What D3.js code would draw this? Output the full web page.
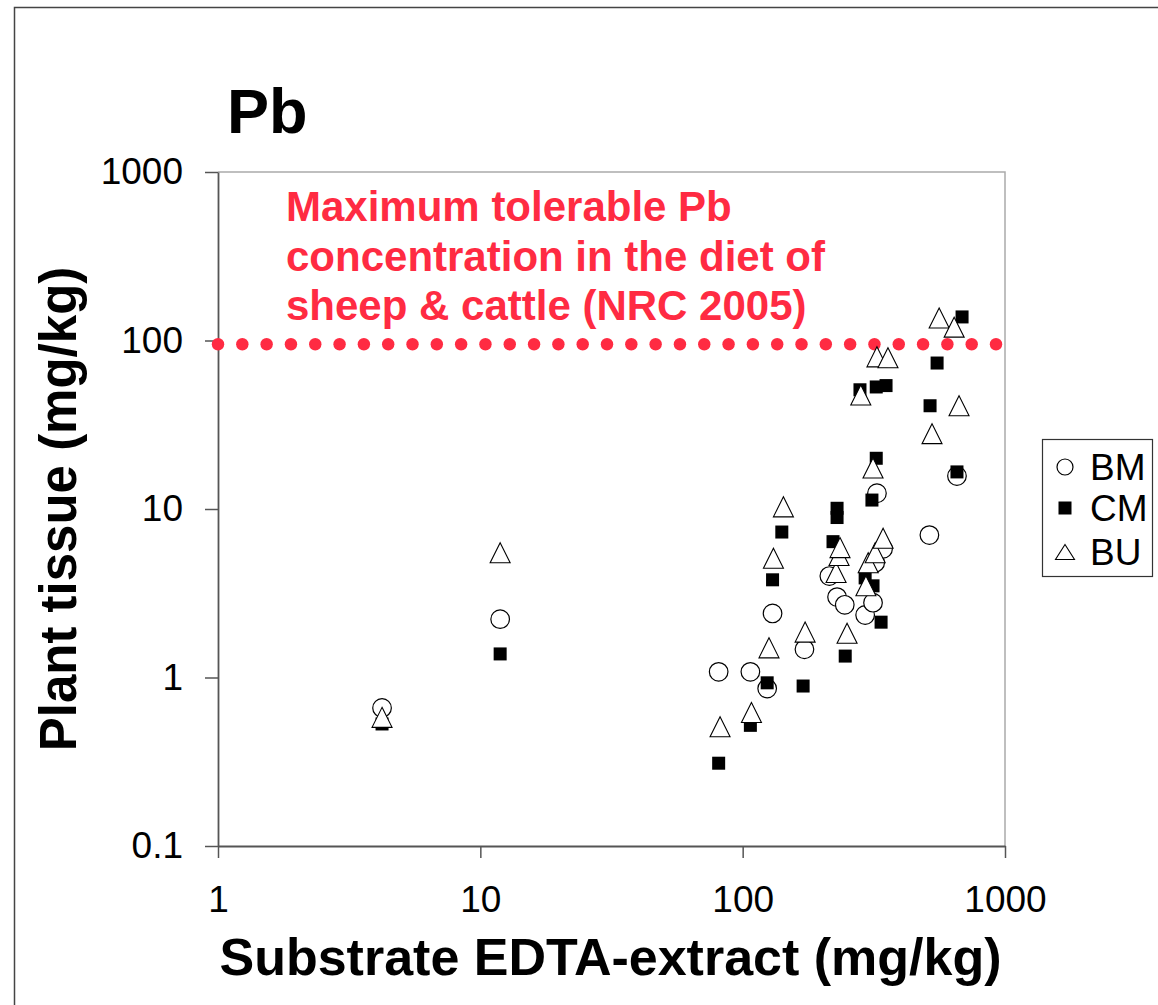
<!DOCTYPE html>
<html>
<head>
<meta charset="utf-8">
<script src="https://d3js.org/d3.v7.min.js"></script>
<style>
body { margin: 0; background: #fff; }
text { font-family: "Liberation Sans", Arial, sans-serif; }
</style>
</head>
<body>
<script>
// data
var bmX = [4.22, 11.9, 81, 107, 124, 130, 172, 214, 229, 245, 293, 314, 320, 343, 325, 515, 656];
var bmY = [0.66, 2.22, 1.08, 1.08, 0.86, 2.4, 1.47, 4.0, 3.0, 2.7, 2.35, 2.78, 4.8, 5.8, 12.4, 7.0, 15.7];

var cmX = [4.22, 11.9, 81, 107, 124, 130, 141, 170, 221, 229, 229, 246, 280, 293, 311, 314, 323, 323, 337, 352, 518, 551, 656, 686];
var cmY = [0.53, 1.38, 0.31, 0.52, 0.93, 3.8, 7.3, 0.89, 6.4, 10.1, 8.9, 1.34, 51, 3.9, 11.3, 3.5, 20, 53, 2.13, 54, 41, 73.5, 16.6, 138];

var buX = [4.22, 11.9, 82, 108, 126, 131, 143, 173, 227, 233, 235, 250, 282, 295, 301, 314, 320, 325, 343, 358, 527, 561, 640, 668];
var buY = [0.58, 5.5, 0.51, 0.62, 1.5, 5.1, 10.3, 1.86, 4.2, 5.3, 5.9, 1.83, 47.5, 3.5, 4.8, 17.5, 5.5, 80, 6.7, 79, 28, 136, 120, 41];

var xTicks = [1, 10, 100, 1000];
var yTicks = [0.1, 1, 10, 100, 1000];
var limitValue = 95;
var seriesNames = ['BM', 'CM', 'BU'];
var noteLines = ['Maximum tolerable Pb', 'concentration in the diet of', 'sheep & cattle (NRC 2005)'];

var svgConfig = {
	width: 1158,
	height: 1005,
	left: 218,
	right: 1005,
	top: 172,
	bottom: 846
};
var red = '#ff2b42';

var svg = d3.select('body')
	.append('svg')
	.attr('width', svgConfig.width)
	.attr('height', svgConfig.height);

// outer frame
svg.append('rect')
	.attr('x', 14.5).attr('y', 7.5)
	.attr('width', 1160).attr('height', 1020)
	.attr('fill', 'none')
	.attr('stroke', '#444')
	.attr('stroke-width', 1.5);

var xScale = d3.scaleLog().domain([1, 1000]).range([svgConfig.left, svgConfig.right]);
var yScale = d3.scaleLog().domain([0.1, 1000]).range([svgConfig.bottom, svgConfig.top]);

// plot frame (top/right light)
svg.append('path')
	.attr('d', 'M' + svgConfig.left + ',' + svgConfig.top + 'H' + svgConfig.right + 'V' + svgConfig.bottom)
	.attr('fill', 'none')
	.attr('stroke', '#aaa')
	.attr('stroke-width', 1.5);

// x axis
var xAxis = d3.axisBottom(xScale)
	.tickValues(xTicks)
	.tickFormat(d3.format('d'))
	.tickSizeInner(12)
	.tickSizeOuter(0)
	.tickPadding(28);
var gx = svg.append('g')
	.attr('transform', 'translate(0,' + svgConfig.bottom + ')')
	.call(xAxis);
gx.select('.domain').attr('stroke', '#555').attr('stroke-width', 1.8);
gx.selectAll('.tick line').attr('stroke', '#555').attr('stroke-width', 1.5);
gx.selectAll('.tick text').attr('font-size', 37).attr('fill', '#000')
	.attr('font-family', '"Liberation Sans", Arial, sans-serif');

// y axis
var yAxis = d3.axisLeft(yScale)
	.tickValues(yTicks)
	.tickFormat(function (d) { return d < 1 ? '0.1' : d3.format('d')(d); })
	.tickSizeInner(13)
	.tickSizeOuter(0)
	.tickPadding(22);
var gy = svg.append('g')
	.attr('transform', 'translate(' + svgConfig.left + ',0)')
	.call(yAxis);
gy.select('.domain').attr('stroke', '#555').attr('stroke-width', 1.8);
gy.selectAll('.tick line').attr('stroke', '#555').attr('stroke-width', 1.5);
gy.selectAll('.tick text').attr('font-size', 37).attr('fill', '#000')
	.attr('font-family', '"Liberation Sans", Arial, sans-serif');

// limit line (dotted)
var dotCount = 33;
var dotStep = (996 - svgConfig.left) / (dotCount - 1);
svg.selectAll('.limitDot')
	.data(d3.range(dotCount))
	.enter()
	.append('circle')
	.attr('class', 'limitDot')
	.attr('cx', function (d) { return svgConfig.left + d * dotStep; })
	.attr('cy', yScale(limitValue))
	.attr('r', 6.2)
	.attr('fill', red);

// note
svg.append('text')
	.attr('x', 286)
	.attr('y', 221)
	.attr('font-size', 42)
	.attr('font-weight', 'bold')
	.attr('fill', red)
	.selectAll('tspan')
	.data(noteLines)
	.enter()
	.append('tspan')
	.attr('x', 286)
	.attr('dy', function (d, i) { return i === 0 ? 0 : 49.5; })
	.text(function (d) { return d; });

// markers
function circleMark(sel, r) {
	sel.append('circle').attr('r', r).attr('fill', '#fff').attr('stroke', '#000').attr('stroke-width', 1.2);
}
function squareMark(sel, s) {
	sel.append('rect').attr('x', -s / 2).attr('y', -s / 2).attr('width', s).attr('height', s).attr('fill', '#000');
}
function triMark(sel, w, h) {
	sel.append('path')
		.attr('d', 'M0,' + (-h / 2) + 'L' + (w / 2) + ',' + (h / 2) + 'L' + (-w / 2) + ',' + (h / 2) + 'Z')
		.attr('fill', '#fff').attr('stroke', '#000').attr('stroke-width', 1.1);
}

function drawSeries(xs, ys, cls, draw) {
	svg.selectAll('.' + cls)
		.data(xs)
		.enter()
		.append('g')
		.attr('class', cls)
		.attr('transform', function (d, i) {
			return 'translate(' + xScale(d) + ',' + yScale(ys[i]) + ')';
		})
		.call(draw);
}
drawSeries(bmX, bmY, 'bm', function (sel) { circleMark(sel, 9.3); });
drawSeries(cmX, cmY, 'cm', function (sel) { squareMark(sel, 13); });
drawSeries(buX, buY, 'bu', function (sel) { triMark(sel, 20, 20); });

// title
svg.append('text')
	.attr('x', 227)
	.attr('y', 133)
	.attr('font-size', 63)
	.attr('font-weight', 'bold')
	.text('Pb');

// axis titles
svg.append('text')
	.attr('x', (svgConfig.left + svgConfig.right) / 2 - 1)
	.attr('y', 975)
	.attr('text-anchor', 'middle')
	.attr('font-size', 52)
	.attr('font-weight', 'bold')
	.text('Substrate EDTA-extract (mg/kg)');

svg.append('text')
	.attr('transform', 'translate(76,' + ((svgConfig.top + svgConfig.bottom) / 2) + ') rotate(-90)')
	.attr('text-anchor', 'middle')
	.attr('font-size', 51)
	.attr('font-weight', 'bold')
	.text('Plant tissue (mg/kg)');

// legend
var legend = svg.append('g').attr('transform', 'translate(1042,439)');
legend.append('rect')
	.attr('x', 0.5).attr('y', 0.5)
	.attr('width', 110).attr('height', 137)
	.attr('fill', '#fff')
	.attr('stroke', '#333')
	.attr('stroke-width', 1.2);
var rowY = [28, 69, 113];
var rows = legend.selectAll('.legRow')
	.data(seriesNames)
	.enter()
	.append('g')
	.attr('class', 'legRow')
	.attr('transform', function (d, i) { return 'translate(23,' + rowY[i] + ')'; });
rows.each(function (d, i) {
	var g = d3.select(this);
	if (i === 0) circleMark(g, 8);
	if (i === 1) squareMark(g, 13);
	if (i === 2) triMark(g, 19, 15);
});
rows.append('text')
	.attr('x', 25)
	.attr('y', 13)
	.attr('font-size', 37)
	.text(function (d) { return d; });
</script>
</body>
</html>
